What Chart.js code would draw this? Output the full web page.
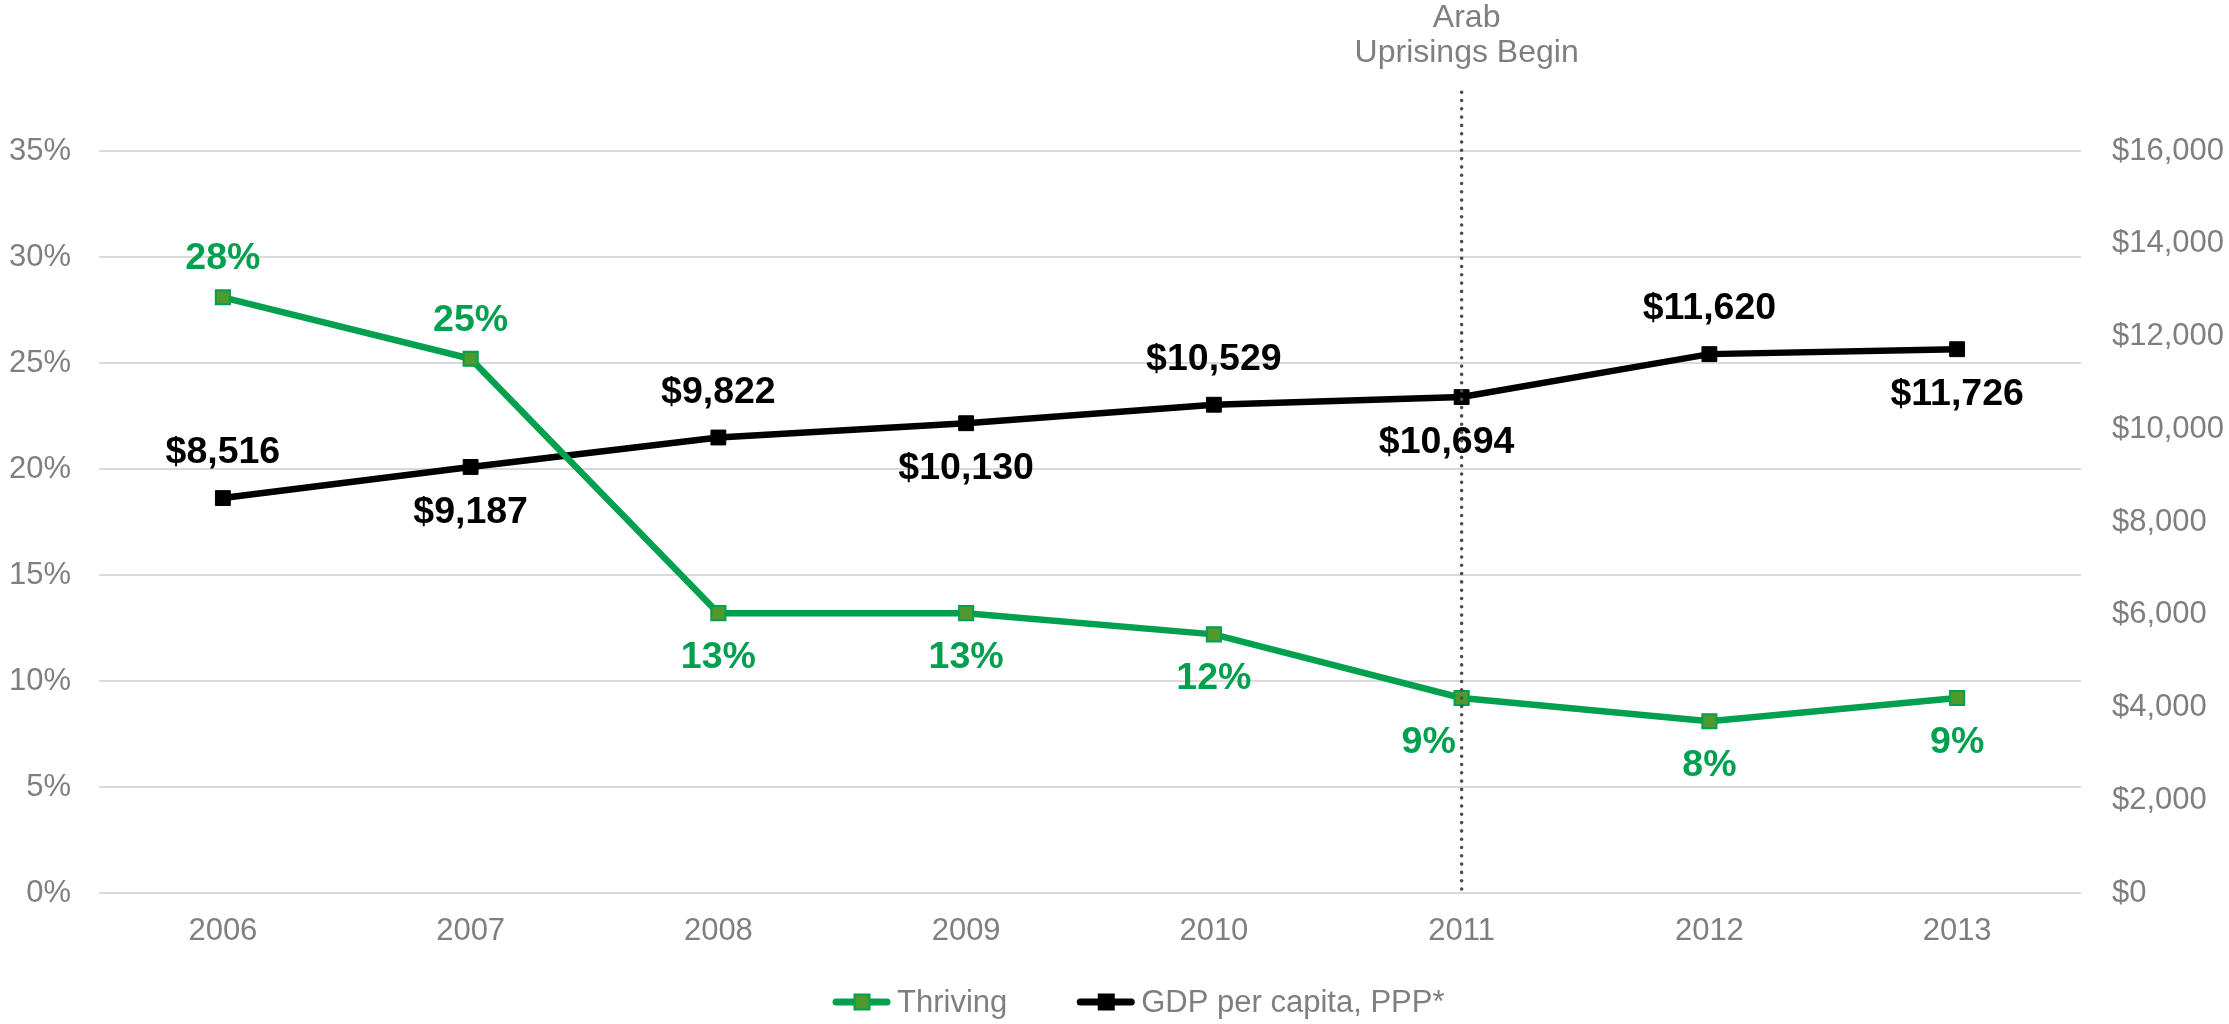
<!DOCTYPE html>
<html>
<head>
<meta charset="utf-8">
<script src="https://cdn.jsdelivr.net/npm/chart.js@4.4.1/dist/chart.umd.min.js"></script>
<style>
html,body{margin:0;padding:0;background:#fff;overflow:hidden}
#wrap{width:2229px;height:1024px;position:relative}
</style>
</head>
<body>
<div id="wrap"><canvas id="c" width="2229" height="1024"></canvas></div>
<script>
// ---- data ----
const categories = ['2006', '2007', '2008', '2009', '2010', '2011', '2012', '2013'];
const thrivingValues = [28.1, 25.2, 13.2, 13.2, 12.2, 9.2, 8.1, 9.2];
const gdpValues = [8516, 9187, 9822, 10130, 10529, 10694, 11620, 11726];
const seriesNames = ['Thriving', 'GDP per capita, PPP*'];
const leftAxisRange = [0, 35, 5];        // min, max, step (%)
const rightAxisRange = [0, 16000, 2000]; // min, max, step ($)
const annotationCategory = '2011';
const annotationText = ['Arab', 'Uprisings Begin'];

// ---- styles ----
const FONT = '"Liberation Sans", Arial, Helvetica, sans-serif';
const GRAY = '#7F7F7F';
const GREEN = '#00A04F';
const GREEN_FILL = '#4E9A2E';
const BLACK = '#000000';

Chart.defaults.font.family = FONT;

const fmtPct = v => Math.round(v) + '%';
const fmtUsd = v => '$' + Math.round(v).toLocaleString('en-US');

// label placement per series: above (-) or below (+) baseline offsets
const labelCfg = [
  { color: GREEN, fmt: fmtPct, above: [true, true, false, false, false, false, false, false], up: -28, down: 55, dx: {5: -33} },
  { color: BLACK, fmt: fmtUsd, above: [true, false, true, false, true, false, true, false], up: -35, down: 56, dx: {5: -15} }
];

const overlayPlugin = {
  id: 'overlay',
  afterDatasetsDraw(chart) {
    const ctx = chart.ctx;
    const area = chart.chartArea;
    // data labels
    chart.data.datasets.forEach((ds, di) => {
      const meta = chart.getDatasetMeta(di);
      const cfg = labelCfg[di];
      ctx.save();
      ctx.font = 'bold 37.5px ' + FONT;
      ctx.fillStyle = cfg.color;
      ctx.textAlign = 'center';
      ctx.textBaseline = 'alphabetic';
      meta.data.forEach((pt, i) => {
        const off = cfg.above[i] ? cfg.up : cfg.down;
        const dx = cfg.dx[i] || 0;
        ctx.fillText(cfg.fmt(ds.data[i]), pt.x + dx, pt.y + off);
      });
      ctx.restore();
    });
    // dotted vertical annotation line
    const xs = chart.scales.x;
    const ax = xs.getPixelForValue(categories.indexOf(annotationCategory));
    ctx.save();
    ctx.strokeStyle = '#4D4D4D';
    ctx.lineWidth = 3.6;
    ctx.lineCap = 'round';
    ctx.setLineDash([0, 8.3]);
    ctx.beginPath();
    ctx.moveTo(ax, area.bottom - 4);
    ctx.lineTo(ax, 90);
    ctx.stroke();
    ctx.restore();
    // annotation text
    ctx.save();
    ctx.font = '32px ' + FONT;
    ctx.fillStyle = GRAY;
    ctx.textAlign = 'center';
    ctx.textBaseline = 'alphabetic';
    ctx.fillText(annotationText[0], ax + 5, 27);
    ctx.fillText(annotationText[1], ax + 5, 62);
    ctx.restore();
  },
  afterDraw(chart) {
    // legend
    const ctx = chart.ctx;
    const y = 1002, baseY = 1012;
    let x = 833;
    const items = [
      { text: chart.data.datasets[0].label, line: GREEN, fill: GREEN_FILL, border: GREEN },
      { text: chart.data.datasets[1].label, line: BLACK, fill: BLACK, border: BLACK }
    ];
    items.forEach(it => {
      ctx.save();
      ctx.strokeStyle = it.line;
      ctx.lineWidth = 7;
      ctx.lineCap = 'round';
      ctx.beginPath();
      ctx.moveTo(x + 3, y);
      ctx.lineTo(x + 54, y);
      ctx.stroke();
      ctx.fillStyle = it.fill;
      ctx.strokeStyle = it.border;
      ctx.lineWidth = 2;
      ctx.fillRect(x + 29 - 7.5, y - 7.5, 15, 15);
      ctx.strokeRect(x + 29 - 7.5, y - 7.5, 15, 15);
      ctx.font = '31px ' + FONT;
      ctx.fillStyle = GRAY;
      ctx.textAlign = 'left';
      ctx.textBaseline = 'alphabetic';
      ctx.fillText(it.text, x + 64, baseY);
      const w = ctx.measureText(it.text).width;
      ctx.restore();
      x += 64 + w + 70;
    });
  }
};

new Chart(document.getElementById('c'), {
  type: 'line',
  data: {
    labels: categories,
    datasets: [
      {
        label: seriesNames[0],
        data: thrivingValues,
        yAxisID: 'y',
        borderColor: GREEN,
        borderWidth: 6.5,
        pointStyle: 'rect',
        pointRadius: 10,
        pointBackgroundColor: GREEN_FILL,
        pointBorderColor: GREEN,
        pointBorderWidth: 2,
        tension: 0,
        fill: false
      },
      {
        label: seriesNames[1],
        data: gdpValues,
        yAxisID: 'y1',
        borderColor: BLACK,
        borderWidth: 6.5,
        pointStyle: 'rect',
        pointRadius: 10.5,
        pointBackgroundColor: BLACK,
        pointBorderColor: BLACK,
        pointBorderWidth: 1,
        tension: 0,
        fill: false
      }
    ]
  },
  options: {
    responsive: false,
    animation: false,
    devicePixelRatio: 1,
    layout: { padding: { top: 151, bottom: 71, left: 0, right: 0 } },
    plugins: {
      legend: { display: false },
      tooltip: { enabled: false }
    },
    scales: {
      x: {
        offset: true,
        grid: { display: false, drawTicks: false },
        border: { display: false },
        ticks: { color: GRAY, font: { size: 31 }, padding: 20, maxRotation: 0 },
        afterFit(s) { s.height = 60; }
      },
      y: {
        position: 'left',
        min: leftAxisRange[0],
        max: leftAxisRange[1],
        grid: { color: '#D9D9D9', lineWidth: 2, drawTicks: false },
        border: { display: false },
        ticks: { stepSize: leftAxisRange[2], color: GRAY, font: { size: 31 }, padding: 28, callback: v => v + '%' },
        afterFit(s) { s.width = 99; }
      },
      y1: {
        position: 'right',
        min: rightAxisRange[0],
        max: rightAxisRange[1],
        grid: { display: false, drawTicks: false },
        border: { display: false },
        ticks: { stepSize: rightAxisRange[2], color: GRAY, font: { size: 31 }, padding: 31, callback: v => fmtUsd(v) },
        afterFit(s) { s.width = 148; }
      }
    }
  },
  plugins: [overlayPlugin]
});
</script>
</body>
</html>
